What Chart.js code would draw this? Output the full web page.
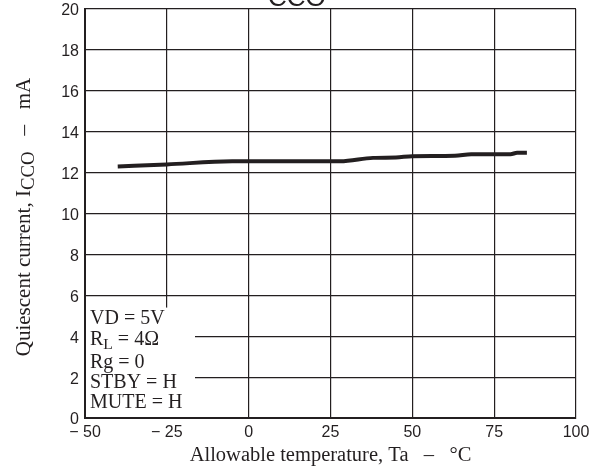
<!DOCTYPE html>
<html>
<head>
<meta charset="utf-8">
<script src="https://cdn.jsdelivr.net/npm/chart.js@4.4.1/dist/chart.umd.min.js"></script>
<style>
  html, body { margin: 0; padding: 0; background: #fff; }
  #wrap { width: 596px; height: 470px; }
</style>
</head>
<body>
<div id="wrap"><canvas id="iccoChart" width="596" height="470"></canvas></div>
<script>
const temps = [-40, -25, -5, 25, 28, 38, 45, 50, 63, 68, 80, 82, 85];
const iccoValues = [12.3, 12.4, 12.55, 12.55, 12.55, 12.72, 12.74, 12.8, 12.82, 12.9, 12.9, 12.97, 12.97];

const xTicks = [-50, -25, 0, 25, 50, 75, 100];
const yTicks = [0, 2, 4, 6, 8, 10, 12, 14, 16, 18, 20];

const serif = "'Liberation Serif', 'Times New Roman', serif";
const sans = "'Liberation Sans', Arial, sans-serif";
const ink = '#231f20';

const points = temps.map((t, i) => ({ x: t, y: iccoValues[i] }));

// text with a subscript part, used for titles and the condition box
function drawRich(ctx, parts, x, y, size, align, subScale) {
  const ss = subScale || 0.78;
  let total = 0;
  parts.forEach(p => {
    ctx.font = (p.sub ? size * ss : size) + "px " + serif;
    p.w = ctx.measureText(p.text).width;
    total += p.w;
  });
  let cx = align === 'center' ? x - total / 2 : x;
  parts.forEach(p => {
    ctx.font = (p.sub ? size * ss : size) + "px " + serif;
    ctx.fillText(p.text, cx, p.sub ? y + size * 0.2 : y);
    cx += p.w;
  });
}

const overlay = {
  id: 'overlay',
  beforeDatasetsDraw(chart) {
    const ctx = chart.ctx;
    const { x, y } = chart.scales;
    // white box behind the conditions text
    ctx.save();
    ctx.fillStyle = '#fff';
    ctx.fillRect(x.left + 1, y.getPixelForValue(5.4), 109, y.getPixelForValue(0) - y.getPixelForValue(5.4) - 1);
    ctx.restore();
  },
  afterDraw(chart) {
    const ctx = chart.ctx;
    const { x, y } = chart.scales;
    ctx.save();
    ctx.fillStyle = ink;
    ctx.textBaseline = 'alphabetic';
    ctx.textAlign = 'left';

    // cut-off heading at the very top
    ctx.font = "26px " + sans;
    ctx.fillText("CCO", 268, 6);

    // conditions
    const lx = x.left + 5;
    const baselines = [324, 345, 368, 388, 408];
    drawRich(ctx, [{ text: "VD = 5V" }], lx, baselines[0], 20);
    drawRich(ctx, [{ text: "R" }, { text: "L", sub: true }, { text: " = 4Ω" }], lx, baselines[1], 20);
    drawRich(ctx, [{ text: "Rg = 0" }], lx, baselines[2], 20);
    drawRich(ctx, [{ text: "STBY = H" }], lx, baselines[3], 20);
    drawRich(ctx, [{ text: "MUTE = H" }], lx, baselines[4], 20);

    // x axis title
    drawRich(ctx, [{ text: "Allowable temperature, Ta   –   °C" }], (x.left + x.right) / 2, 461, 20.5, 'center');

    // y axis title, rotated
    ctx.translate(30, 217);
    ctx.rotate(-Math.PI / 2);
    drawRich(ctx, [{ text: "Quiescent current, I" }, { text: "CCO", sub: true }, { text: "   –   mA" }], 0, 0, 21, 'center', 0.9);
    ctx.restore();
  }
};

new Chart(document.getElementById("iccoChart"), {
  type: 'line',
  data: {
    datasets: [{
      data: points,
      borderColor: ink,
      borderWidth: 4,
      pointRadius: 0,
      fill: false,
      cubicInterpolationMode: 'monotone'
    }]
  },
  options: {
    responsive: false,
    animation: false,
    layout: { padding: { top: 9, right: 20, left: 0, bottom: 0 } },
    plugins: { legend: { display: false }, tooltip: { enabled: false } },
    scales: {
      x: {
        type: 'linear',
        min: -50,
        max: 100,
        afterBuildTicks(scale) { scale.ticks = xTicks.map(v => ({ value: v })); },
        afterFit(scale) { scale.height = 52; },
        grid: { color: ink, lineWidth: 1.2, drawTicks: false },
        border: { color: ink, width: 2 },
        ticks: {
          color: ink,
          padding: 5,
          maxRotation: 0,
          font: { family: sans, size: 16 },
          callback: v => v < 0 ? "\u2212 " + Math.abs(v) : String(v)
        }
      },
      y: {
        min: 0,
        max: 20,
        afterBuildTicks(scale) { scale.ticks = yTicks.map(v => ({ value: v })); },
        afterFit(scale) { scale.width = 85; scale.paddingTop = 0; scale.paddingBottom = 0; },
        grid: { color: ink, lineWidth: 1.2, drawTicks: false },
        border: { color: ink, width: 2 },
        ticks: {
          color: ink,
          padding: 6,
          labelOffset: 2,
          font: { family: sans, size: 16 }
        }
      }
    }
  },
  plugins: [overlay]
});
</script>
</body>
</html>
